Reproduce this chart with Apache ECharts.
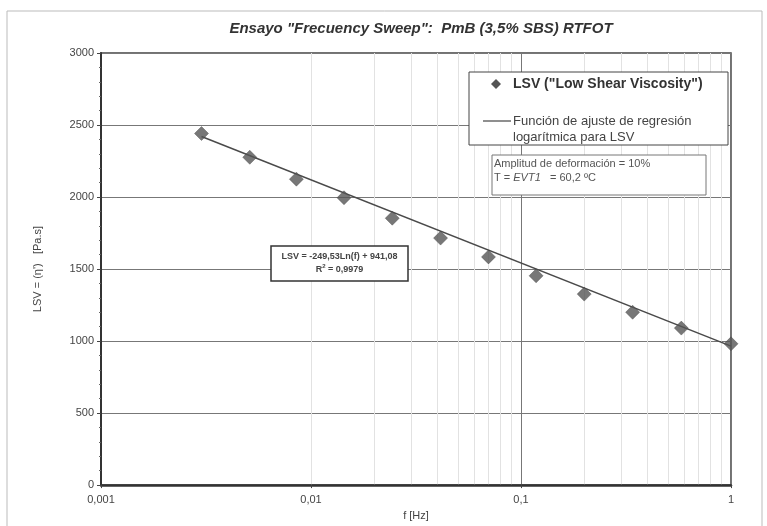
<!DOCTYPE html>
<html>
<head>
<meta charset="utf-8">
<script src="https://cdn.jsdelivr.net/npm/echarts@6/dist/echarts.min.js"></script>
<style>
  html, body { margin: 0; padding: 0; background: #fff; }
  #chart { width: 767px; height: 526px; }
</style>
</head>
<body>
<div id="chart"></div>
<script>
const freqHz = [0.00301, 0.00511, 0.00852, 0.01436, 0.02438, 0.0414, 0.0700, 0.118, 0.200, 0.340, 0.580, 1.0];
const lsvValues = [2441, 2276, 2124, 1995, 1853, 1715, 1584, 1453, 1326, 1200, 1090, 981];

// ends of the fitted (log) trend line
const trendFreq = [0.00301, 1.0];
const trendLsv = [2420, 965];

const xTicks = [0.001, 0.01, 0.1, 1];
const minorSteps = [2, 3, 4, 5, 6, 7, 8, 9];

const font = 'Liberation Sans, Arial, sans-serif';

const minorLines = [];
xTicks.slice(0, -1).forEach(d => {
  minorSteps.forEach(m => minorLines.push({ xAxis: +(d * m).toPrecision(3) }));
});

const chart = echarts.init(document.getElementById('chart'), null, { renderer: 'canvas' });

const option = {
  backgroundColor: '#fff',
  animation: false,
  title: {
    text: 'Ensayo "Frecuency Sweep":  PmB (3,5% SBS) RTFOT',
    left: 416, top: 16, textAlign: 'center',
    textStyle: { fontFamily: font, fontSize: 15, fontWeight: 'bold', fontStyle: 'italic', color: '#333' }
  },
  grid: {
    left: 101, right: 36, top: 53, bottom: 38,
    show: true, borderColor: '#444', borderWidth: 1.5, backgroundColor: 'transparent'
  },
  xAxis: {
    type: 'log', logBase: 10, min: 0.001, max: 1,
    name: 'f [Hz]', nameLocation: 'middle', nameGap: 24,
    nameTextStyle: { fontFamily: font, fontSize: 11, color: '#444' },
    axisLine: { lineStyle: { color: '#333', width: 2.5 } },
    axisTick: { show: true, length: 3, lineStyle: { color: '#444' } },
    axisLabel: {
      fontFamily: font, fontSize: 11, color: '#444', margin: 9,
      formatter: v => String(+v.toPrecision(3)).replace('.', ',')
    },
    splitLine: { show: true, lineStyle: { color: '#777', width: 1 } },
    minorTick: { show: false },
    minorSplitLine: { show: false }
  },
  yAxis: {
    type: 'value', min: 0, max: 3000, interval: 500,
    name: "LSV = (η')   [Pa.s]", nameLocation: 'middle', nameGap: 58, nameRotate: 90,
    nameTextStyle: { fontFamily: font, fontSize: 11, color: '#444' },
    axisLine: { show: true, lineStyle: { color: '#333', width: 2 } },
    axisTick: { show: true, inside: false, length: 4, lineStyle: { color: '#444' } },
    minorTick: { show: true, splitNumber: 5, length: 2, lineStyle: { color: '#666' } },
    axisLabel: { fontFamily: font, fontSize: 11, color: '#444', margin: 7, formatter: v => String(v) },
    splitLine: { show: true, lineStyle: { color: '#777', width: 1 } }
  },
  series: [
    {
      name: 'grid-minor',
      type: 'line',
      data: [],
      silent: true,
      z: 0,
      markLine: {
        silent: true, symbol: 'none', label: { show: false }, z: 0,
        lineStyle: { color: '#e2e2e2', width: 1, type: 'solid' },
        data: minorLines
      }
    },
    {
      name: 'Función de ajuste',
      type: 'line',
      data: trendFreq.map((f, i) => [f, trendLsv[i]]),
      showSymbol: false,
      lineStyle: { color: '#4a4a4a', width: 1.5 },
      z: 3
    },
    {
      name: 'LSV',
      type: 'scatter',
      data: freqHz.map((f, i) => [f, lsvValues[i]]),
      symbol: 'diamond',
      symbolSize: 14,
      itemStyle: { color: '#555', borderColor: '#444', borderWidth: 0.5 },
      z: 4
    }
  ],
  graphic: [
    // outer frame of the scanned figure
    { type: 'rect', silent: true, z: -1, shape: { x: 7, y: 11, width: 755, height: 530 },
      style: { fill: 'none', stroke: '#bbb', lineWidth: 1 } },
    // legend box
    { type: 'rect', shape: { x: 469, y: 72, width: 259, height: 73 },
      style: { fill: '#fff', stroke: '#444', lineWidth: 1 }, z: 10 },
    { type: 'polygon', shape: { points: [[496, 79], [501, 84], [496, 89], [491, 84]] },
      style: { fill: '#555' }, z: 11 },
    { type: 'text', x: 513, y: 84, z: 11,
      style: { text: 'LSV ("Low Shear Viscosity")', fontFamily: font, fontSize: 14, fontWeight: 'bold',
        fill: '#333', verticalAlign: 'middle' } },
    { type: 'line', shape: { x1: 483, y1: 121, x2: 511, y2: 121 },
      style: { stroke: '#444', lineWidth: 1.2 }, z: 11 },
    { type: 'text', x: 513, y: 113, z: 11,
      style: { text: 'Función de ajuste de regresión\nlogarítmica para LSV', fontFamily: font, fontSize: 13,
        fill: '#444', lineHeight: 16, verticalAlign: 'top' } },
    // test conditions box
    { type: 'rect', shape: { x: 492, y: 155, width: 214, height: 40 },
      style: { fill: '#fff', stroke: '#777', lineWidth: 1 }, z: 10 },
    { type: 'text', x: 494, y: 157, z: 11,
      style: { text: 'Amplitud de deformación = 10%\n{n|T = }{i|EVT1}{n|   = 60,2 ºC}', fontFamily: font, fontSize: 11,
        fill: '#555', lineHeight: 14, verticalAlign: 'top',
        rich: { n: { fontFamily: font, fontSize: 11, fill: '#555' }, i: { fontFamily: font, fontSize: 11, fontStyle: 'italic', fill: '#555' } } } },
    // regression equation box
    { type: 'rect', shape: { x: 271, y: 246, width: 137, height: 35 },
      style: { fill: '#fff', stroke: '#333', lineWidth: 1.5 }, z: 10 },
    { type: 'text', x: 339.5, y: 263, z: 11,
      style: { text: 'LSV = -249,53Ln(f) + 941,08\n{n|R}{s|2}{n| = 0,9979}', fontFamily: font, fontSize: 9, fontWeight: 'bold',
        fill: '#444', lineHeight: 13, align: 'center', verticalAlign: 'middle',
        rich: { n: { fontFamily: font, fontSize: 9, fontWeight: 'bold', fill: '#444' },
                s: { fontFamily: font, fontSize: 6, fontWeight: 'bold', fill: '#444', verticalAlign: 'top', padding: [0, 0, 5, 0] } } } }
  ]
};

chart.setOption(option);
</script>
</body>
</html>
